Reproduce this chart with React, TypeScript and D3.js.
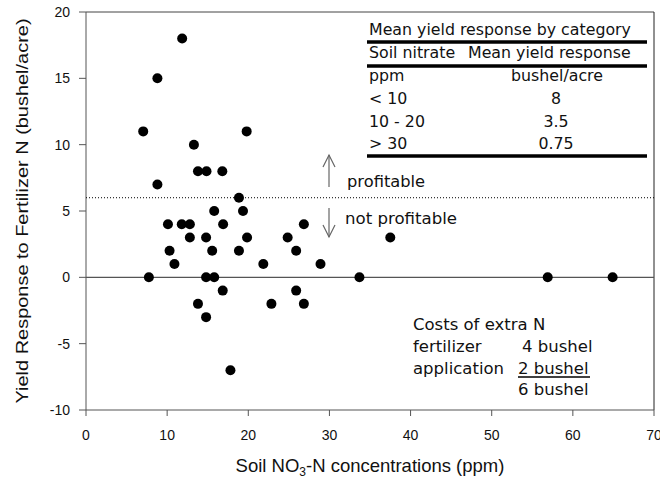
import React from 'react';
import * as d3 from 'd3';

// soil nitrate (ppm) and yield response (bushel/acre)
const nitrate = [7.05, 7.75, 8.8, 8.8, 10.1, 10.3, 10.9, 11.85, 11.8, 12.8, 12.8, 13.3, 13.8, 13.8,
  14.85, 14.8, 14.8, 14.8, 15.8, 15.55, 15.8, 16.8, 16.9, 16.85, 17.8, 18.85, 18.85, 19.35, 19.8,
  19.85, 21.85, 22.85, 24.85, 25.9, 25.9, 26.85, 26.85, 28.9, 33.7, 37.5, 56.9, 64.9];
const response = [11, 0, 15, 7, 4, 2, 1, 18, 4, 4, 3, 10, 8, -2,
  8, 3, 0, -3, 5, 2, 0, 8, 4, -1, -7, 6, 2, 5, 11,
  3, 1, -2, 3, 2, -1, 4, -2, 1, 0, 3, 0, 0];

const xTicks = [0, 10, 20, 30, 40, 50, 60, 70];
const yTicks = [-10, -5, 0, 5, 10, 15, 20];
const profitLevel = 6;

const tableTitle = 'Mean yield response by category';
const tableHead = ['Soil nitrate', 'Mean yield response'];
const tableUnits = ['ppm', 'bushel/acre'];
const categories = ['< 10', '10 - 20', '> 30'];
const meanYield = ['8', '3.5', '0.75'];

const costLabels = ['fertilizer', 'application', ''];
const costValues = ['4 bushel', '2 bushel', '6 bushel'];

const W = 660;
const H = 478;
const margin = { top: 12, right: 6, bottom: 68, left: 86 };

export default function App() {
  const x = d3.scaleLinear().domain([0, 70]).range([margin.left, W - margin.right]);
  const y = d3.scaleLinear().domain([-10, 20]).range([H - margin.bottom, margin.top]);
  const x0 = x(0), x1 = x(70), yb = y(-10), yt = y(20);
  const axisFont = '"Liberation Sans", Arial, sans-serif';
  const noteFont = '"DejaVu Sans", Verdana, sans-serif';

  return (
    <div style={{ position: 'absolute', left: 0, top: 0 }}>
      <svg width={W} height={H} style={{ display: 'block', background: '#fff' }}>
        {/* frame */}
        <line x1={x0} x2={x1} y1={yt} y2={yt} stroke="#444" strokeWidth={1} />
        <line x1={x1} x2={x1} y1={yt} y2={yb} stroke="#222" strokeWidth={1} />
        <line x1={x0} x2={x0} y1={yt} y2={yb} stroke="#555" strokeWidth={1} />
        <line x1={x0} x2={x1} y1={yb} y2={yb} stroke="#555" strokeWidth={1} />

        {/* zero and profit lines */}
        <line x1={x0} x2={x1} y1={y(0)} y2={y(0)} stroke="#555" strokeWidth={1.2} />
        <line x1={x0} x2={x1} y1={y(profitLevel)} y2={y(profitLevel)} stroke="#000"
          strokeWidth={1} strokeDasharray="1,2" />

        {/* y ticks */}
        {yTicks.map(t => (
          <g key={'y' + t}>
            <line x1={x0 - 7} x2={x0} y1={y(t)} y2={y(t)} stroke="#555" />
            <text x={x0 - 16} y={y(t)} dy="0.36em" textAnchor="end" fontFamily={axisFont}
              fontSize={14} fill="#111">{t}</text>
          </g>
        ))}
        {/* x ticks */}
        {xTicks.map(t => (
          <g key={'x' + t}>
            <line x1={x(t)} x2={x(t)} y1={yb} y2={yb + 6} stroke="#555" />
            <text x={x(t)} y={yb + 30} textAnchor="middle" fontFamily={axisFont}
              fontSize={14} fill="#111">{t}</text>
          </g>
        ))}

        {/* axis titles */}
        <text x={370} y={472} textAnchor="middle" fontFamily={axisFont} fontSize={18.5} fill="#111">
          Soil NO<tspan fontSize={12} dy={4}>3</tspan><tspan dy={-4}>-N concentrations (ppm)</tspan>
        </text>
        <text transform={`translate(28,${(yt + yb) / 2}) rotate(-90)`} textAnchor="middle"
          fontFamily={axisFont} fontSize={17} fill="#111" textLength={385}
          lengthAdjust="spacingAndGlyphs">
          Yield Response to Fertilizer N (bushel/acre)
        </text>

        {/* points */}
        {nitrate.map((n, i) => (
          <circle key={i} cx={x(n)} cy={y(response[i])} r={5} fill="#000" />
        ))}

        {/* profit arrows */}
        <g stroke="#666" strokeWidth={1.2} fill="none">
          <line x1={329} x2={329} y1={187} y2={155} />
          <polyline points="323,167 329,155 335,167" />
          <line x1={329} x2={329} y1={208} y2={237} />
          <polyline points="323,225 329,237 335,225" />
        </g>
        <text x={347} y={187} fontFamily={noteFont} fontSize={16.3} fill="#111">profitable</text>
        <text x={345} y={224} fontFamily={noteFont} fontSize={16.6} fill="#111">not profitable</text>

        {/* table */}
        <g fontFamily={noteFont} fontSize={15.8} fill="#111">
          <text x={369} y={35}>{tableTitle}</text>
          <line x1={367} x2={647} y1={42} y2={42} stroke="#000" strokeWidth={3.5} />
          <text x={369} y={58}>{tableHead[0]}</text>
          <text x={468} y={58}>{tableHead[1]}</text>
          <line x1={367} x2={647} y1={66} y2={66} stroke="#000" strokeWidth={3.5} />
          <text x={369} y={81}>{tableUnits[0]}</text>
          <text x={557} y={81} textAnchor="middle">{tableUnits[1]}</text>
          {categories.map((c, i) => (
            <g key={c}>
              <text x={369} y={104 + i * 22.5}>{c}</text>
              <text x={556} y={104 + i * 22.5} textAnchor="middle">{meanYield[i]}</text>
            </g>
          ))}
          <line x1={367} x2={647} y1={156} y2={156} stroke="#000" strokeWidth={3.5} />
        </g>

        {/* costs */}
        <g fontFamily={noteFont} fontSize={16.5} fill="#111">
          <text x={413} y={330}>Costs of extra N</text>
          {costValues.map((v, i) => (
            <g key={v}>
              <text x={413} y={352 + i * 21.7}>{costLabels[i]}</text>
              <text x={i === 0 ? 522 : 518} y={352 + i * 21.7}>{v}</text>
            </g>
          ))}
          <line x1={518} x2={590} y1={377} y2={377} stroke="#000" strokeWidth={1.5} />
        </g>
      </svg>
    </div>
  );
}
